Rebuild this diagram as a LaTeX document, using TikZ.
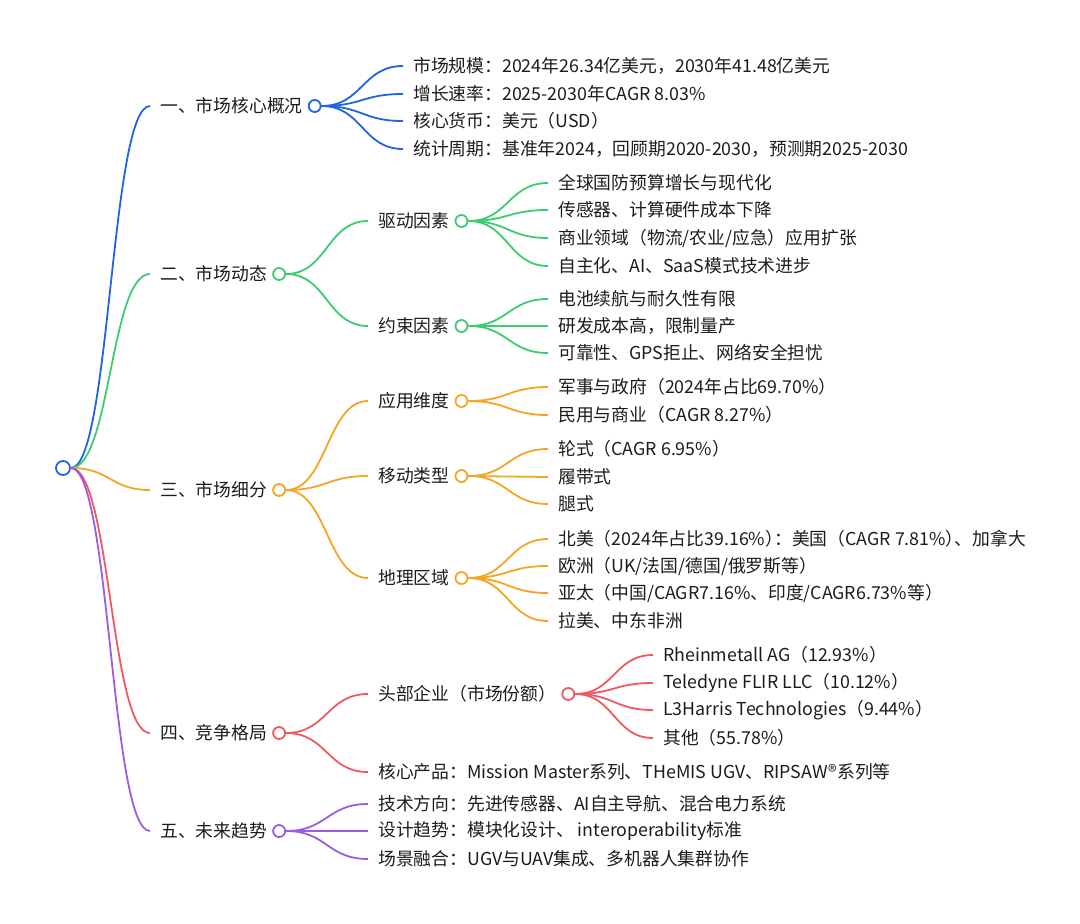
\documentclass[tikz,border=0pt]{standalone}
\usepackage{fontspec}
\setmainfont{Noto Sans CJK SC}
\usetikzlibrary{positioning,calc}
\definecolor{mblue}{HTML}{1F63E6}
\definecolor{mgreen}{HTML}{3CCB6E}
\definecolor{morange}{HTML}{F5A524}
\definecolor{mred}{HTML}{EE5A5F}
\definecolor{mpurple}{HTML}{9B5DE0}
\definecolor{txt}{HTML}{1C1C1C}
\newcommand\halfw[1]{{\addfontfeature{RawFeature=+halt}#1}}
\begin{document}
\begin{tikzpicture}
[x=1pt,y=-1pt,
 every node/.style={font=\fontsize{17.8}{20}\selectfont, text=txt},
 item/.style={anchor=west, inner xsep=0pt, inner ysep=1pt},
 dot/.style={circle, draw, fill=white, line width=1.8pt, minimum size=12pt, inner sep=0pt},
 link/.style={line width=1.8pt, to path={let \p1=(\tikztostart), \p2=($(\tikztotarget)+(-10,0)$) in
   .. controls ({(\x1+\x2)/2},\y1) and ({(\x1+\x2)/2},\y2) .. (\p2)}}]
\useasboundingbox (0,0) rectangle (1080,924);

\node[dot, draw=mblue, minimum size=14pt] (root) at (63,468) {};

% 一
\node[item] (t1) at (160,106) {一、市场核心概况};
\node[dot, draw=mblue, right=5pt of t1] (c1) {};
\node[item] (t11) at (413,66) {市场规模：2024年26.34亿美元，2030年41.48亿美元};
\node[item] (t12) at (413,94) {增长速率：2025-2030年CAGR 8.03\%};
\node[item] (t13) at (413,121) {核心货币：美元（USD）};
\node[item] (t14) at (413,149) {统计周期：基准年2024，回顾期2020-2030，预测期2025-2030};
\draw[mblue, link] (root.east) to (t1.west);
\foreach \k in {t11,t12,t13,t14} \draw[mblue, link] (c1.east) to (\k.west);

% 二
\node[item] (t2) at (160,274) {二、市场动态};
\node[dot, draw=mgreen, right=5pt of t2] (c2) {};
\node[item] (t21) at (378,221) {驱动因素};
\node[dot, draw=mgreen, right=5pt of t21] (c21) {};
\node[item] (t211) at (558,183) {全球国防预算增长与现代化};
\node[item] (t212) at (558,210) {传感器、计算硬件成本下降};
\node[item] (t213) at (558,238) {商业领域（物流/农业/应急）应用扩张};
\node[item] (t214) at (558,266) {自主化、AI、SaaS模式技术进步};
\node[item] (t22) at (378,326) {约束因素};
\node[dot, draw=mgreen, right=5pt of t22] (c22) {};
\node[item] (t221) at (558,299) {电池续航与耐久性有限};
\node[item] (t222) at (558,326) {研发成本高，限制量产};
\node[item] (t223) at (558,353) {可靠性、GPS拒止、网络安全担忧};
\draw[mgreen, link] (root.east) to (t2.west);
\foreach \k in {t21,t22} \draw[mgreen, link] (c2.east) to (\k.west);
\foreach \k in {t211,t212,t213,t214} \draw[mgreen, link] (c21.east) to (\k.west);
\foreach \k in {t221,t222,t223} \draw[mgreen, link] (c22.east) to (\k.west);

% 三
\node[item] (t3) at (160,490) {三、市场细分};
\node[dot, draw=morange, right=5pt of t3] (c3) {};
\node[item] (t31) at (378,401) {应用维度};
\node[dot, draw=morange, right=5pt of t31] (c31) {};
\node[item] (t311) at (558,387) {军事与政府（2024年占比69.70\%）};
\node[item] (t312) at (558,415) {民用与商业（CAGR 8.27\%）};
\node[item] (t32) at (378,476) {移动类型};
\node[dot, draw=morange, right=5pt of t32] (c32) {};
\node[item] (t321) at (558,449) {轮式（CAGR 6.95\%）};
\node[item] (t322) at (558,477) {履带式};
\node[item] (t323) at (558,504) {腿式};
\node[item] (t33) at (378,578) {地理区域};
\node[dot, draw=morange, right=5pt of t33] (c33) {};
\node[item] (t331) at (558,539) {北美（2024年占比39.16\%\halfw{）}：美国（CAGR 7.81\%\halfw{）}、加拿大};
\node[item] (t332) at (558,566) {欧洲（UK/法国/德国/俄罗斯等）};
\node[item] (t333) at (558,593) {亚太（中国/CAGR7.16\%、印度/CAGR6.73\%等）};
\node[item] (t334) at (558,621) {拉美、中东非洲};
\draw[morange, link] (root.east) to (t3.west);
\foreach \k in {t31,t32,t33} \draw[morange, link] (c3.east) to (\k.west);
\foreach \k in {t311,t312} \draw[morange, link] (c31.east) to (\k.west);
\foreach \k in {t321,t322,t323} \draw[morange, link] (c32.east) to (\k.west);
\foreach \k in {t331,t332,t333,t334} \draw[morange, link] (c33.east) to (\k.west);

% 四
\node[item] (t4) at (160,733) {四、竞争格局};
\node[dot, draw=mred, right=5pt of t4] (c4) {};
\node[item] (t41) at (378,694) {头部企业（市场份额）};
\node[dot, draw=mred, right=5pt of t41] (c41) {};
\node[item] (t411) at (663,655) {Rheinmetall AG（12.93\%）};
\node[item] (t412) at (663,683) {Teledyne FLIR LLC（10.12\%）};
\node[item] (t413) at (663,710) {L3Harris Technologies（9.44\%）};
\node[item] (t414) at (663,738) {其他（55.78\%）};
\node[item] (t42) at (378,772) {核心产品：Mission Master系列、THeMIS UGV、RIPSAW®系列等};
\draw[mred, link] (root.east) to (t4.west);
\foreach \k in {t41,t42} \draw[mred, link] (c4.east) to (\k.west);
\foreach \k in {t411,t412,t413,t414} \draw[mred, link] (c41.east) to (\k.west);

% 五
\node[item] (t5) at (160,831) {五、未来趋势};
\node[dot, draw=mpurple, right=5pt of t5] (c5) {};
\node[item] (t51) at (378,804) {技术方向：先进传感器、AI自主导航、混合电力系统};
\node[item] (t52) at (378,831) {设计趋势：模块化设计、 interoperability标准};
\node[item] (t53) at (378,859) {场景融合：UGV与UAV集成、多机器人集群协作};
\draw[mpurple, link] (root.east) to (t5.west);
\foreach \k in {t51,t52,t53} \draw[mpurple, link] (c5.east) to (\k.west);
\end{tikzpicture}
\end{document}
